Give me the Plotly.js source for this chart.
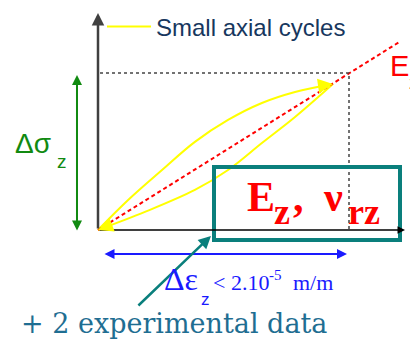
<!DOCTYPE html>
<html>
<head>
<meta charset="utf-8">
<script src="https://cdn.plot.ly/plotly-3.0.1.min.js"></script>
<style>
  html, body { margin: 0; padding: 0; background: #ffffff; }
  #chart { width: 410px; height: 340px; }
</style>
</head>
<body>
<div id="chart"></div>
<script>
// Stress-strain sketch of a small axial cycle, in normalised units:
// strain 1 and stress 1 mark the amplitude of the cycle (dotted guides).
const loadStrain   = [0, 0.120, 0.255, 0.386, 0.518, 0.653, 0.785, 0.936];
const loadStress   = [0, 0.191, 0.382, 0.561, 0.701, 0.809, 0.879, 0.930];
const unloadStrain = [0.936, 0.785, 0.653, 0.518, 0.386, 0.187, 0];
const unloadStress = [0.930, 0.720, 0.554, 0.382, 0.255, 0.115, 0];
const secantStrain = [0, 1.203];
const secantStress = [0, 1.200];
const guideStrain  = [0.008, 1, 1];
const guideStress  = [1, 1, 0];
const cycleLabel   = 'Small axial cycles';

const W = 410, H = 340;
// pixel position of the origin and size of one unit on each axis
const X0 = 98, Y0 = 230, UX = 251, UY = 157;
const xr = [-X0 / UX, (W - X0) / UX];
const yr = [-(H - Y0) / UY, Y0 / UY];
const px = v => v / W;
const py = v => 1 - v / H;

const YELLOW = '#ffff00', RED = '#ff0000', GREEN = '#118a11',
      BLUE = '#1a1aff', TEAL = '#0a7f7c', NAVY = '#17375e', INK = '#1f6e92';
const SANS = 'Liberation Sans, Arial, sans-serif';
const SERIF = 'Liberation Serif, Times New Roman, serif';

const traces = [
  { x: loadStrain, y: loadStress, mode: 'lines', name: cycleLabel,
    legendgroup: 'cyc', line: { color: YELLOW, width: 2, shape: 'spline' } },
  { x: unloadStrain, y: unloadStress, mode: 'lines', legendgroup: 'cyc',
    showlegend: false, line: { color: YELLOW, width: 2, shape: 'spline' } },
  { x: secantStrain, y: secantStress, mode: 'lines', showlegend: false,
    line: { color: RED, width: 2, dash: '4px,3px' } },
  { x: guideStrain, y: guideStress, mode: 'lines', showlegend: false,
    line: { color: '#444444', width: 1.5, dash: 'dot' } }
];

// arrow helper in data units
function arrow(x0, y0, x1, y1, color, width, extra) {
  return Object.assign({
    x: x1, y: y1, ax: x0, ay: y0, xref: 'x', yref: 'y', axref: 'x', ayref: 'y',
    text: '', showarrow: true, arrowhead: 2, arrowsize: 1, standoff: 0,
    startstandoff: 0, arrowcolor: color, arrowwidth: width
  }, extra || {});
}

// text helper: left edge and baseline in pixels
function label(text, xPix, basePix, size, family, color, extra) {
  return Object.assign({
    text: text, xref: 'paper', yref: 'paper', x: px(xPix - 1),
    y: py(basePix - 0.34 * size), xanchor: 'left', yanchor: 'middle',
    showarrow: false, font: { family: family, size: size, color: color }
  }, extra || {});
}

const strainEnd = (W - 5 - X0) / UX;
const stressTop = (Y0 - 13) / UY;
const tipX = loadStrain[loadStrain.length - 1];
const tipY = loadStress[loadStress.length - 1];

const annotations = [
  // axes
  arrow(0, 0, 0, stressTop, '#404040', 2.5),
  arrow(0, 0, strainEnd, 0, '#000000', 1.5),
  // direction marks on the loop
  arrow(0.880, 0.917, tipX, tipY, YELLOW, 2, { arrowsize: 1.5 }),
  arrow(0.05, 0.031, 0, 0, YELLOW, 2, { arrowsize: 1.5 }),
  // stress amplitude
  arrow(-0.0837, -0.013, -0.0837, 0.987, GREEN, 2, { arrowside: 'end+start' }),
  // strain amplitude
  arrow(0.02, -0.153, 0.992, -0.153, BLUE, 2, { arrowside: 'end+start' }),
  // pointer to the box
  arrow(0.155, -0.490, 0.450, -0.038, TEAL, 2.5),

  label('Δσ', 14, 153, 28, SANS, GREEN),
  label('z', 56, 168, 19, SANS, GREEN),
  label('E', 389, 76, 29, SANS, RED),
  label('z', 408, 89, 19, SANS, RED),

  label('<b>E</b>', 246, 211, 42, SERIF, RED),
  label('<b>z</b>', 273, 224, 36, SERIF, RED),
  label('<b>,</b>', 292, 211, 42, SERIF, RED),
  label('<b>ν</b>', 322, 211, 42, SERIF, RED),
  label('<b>rz</b>', 347, 224, 36, SERIF, RED),

  label('Δε', 163, 290, 32, SERIF, BLUE),
  label('z', 200, 305, 17, SANS, BLUE),
  label('< 2.10', 212, 290, 22, SERIF, BLUE),
  label('-5', 268, 280, 15, SERIF, BLUE),
  label('m/m', 292, 290, 22, SERIF, BLUE),

  label('+ 2 experimental data', 20, 333, 27, 'DejaVu Serif, serif', INK)
];

const shapes = [
  { type: 'rect', xref: 'x', yref: 'y',
    x0: (214 - X0) / UX, x1: (400 - X0) / UX,
    y0: (Y0 - 240) / UY, y1: (Y0 - 167) / UY,
    line: { color: TEAL, width: 4 }, fillcolor: 'rgba(0,0,0,0)' }
];

const layout = {
  width: W, height: H,
  margin: { l: 0, r: 0, t: 0, b: 0, pad: 0 },
  paper_bgcolor: '#ffffff', plot_bgcolor: '#ffffff',
  xaxis: { range: xr, visible: false, fixedrange: true },
  yaxis: { range: yr, visible: false, fixedrange: true },
  showlegend: true,
  legend: {
    x: px(102), y: py(27), xanchor: 'left', yanchor: 'middle',
    bgcolor: 'rgba(0,0,0,0)', borderwidth: 0, itemwidth: 44,
    font: { family: SANS, size: 24, color: NAVY }
  },
  annotations: annotations,
  shapes: shapes
};

Plotly.newPlot('chart', traces, layout, { staticPlot: true, displayModeBar: false });
</script>
</body>
</html>
